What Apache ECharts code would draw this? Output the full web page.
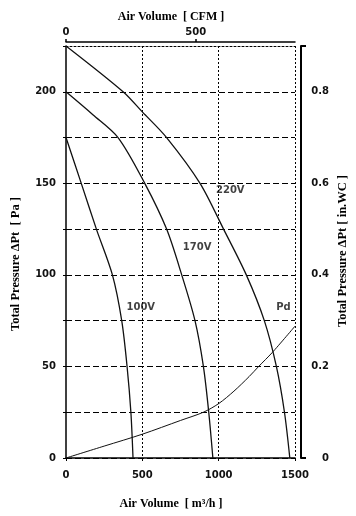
<!DOCTYPE html>
<html>
<head>
<meta charset="utf-8">
<script src="https://cdn.jsdelivr.net/npm/echarts@6/dist/echarts.min.js"></script>
<style>
html,body{margin:0;padding:0;background:#fff;}
#chart{width:356px;height:516px;}
</style>
</head>
<body>
<div id="chart"></div>
<script>
// ---- data (Air volume in m3/h, total pressure in Pa) ----
const volume220 = [0, 374, 500, 659, 878, 1032, 1181, 1299, 1378, 1431, 1466];
const pressure220 = [225, 200, 189, 175, 150, 125, 100, 75, 50, 25, 0];
const volume170 = [0, 176, 341, 516, 659, 758, 845, 900, 935, 962];
const pressure170 = [200, 187.5, 175, 150, 125, 100, 75, 50, 25, 0];
const volume100 = [0, 100, 199, 304, 365, 400, 425, 439];
const pressure100 = [175, 150, 125, 100, 75, 50, 25, 0];
const volumePd = [0, 250, 500, 750, 900, 1000, 1100, 1200, 1262, 1350, 1500];
const pressurePd = [0, 6.5, 13, 20.5, 25, 29.7, 36.5, 44.5, 50, 57.5, 72];
const curveNames = ['220V', '170V', '100V', 'Pd'];
const labelVolume = [1076, 859, 490, 1424];
const labelPressure = [146, 115, 82, 82];
const bottomTicks = [0, 500, 1000, 1500];
const topTicks = [0, 500];
const rightTicks = [0, 0.2, 0.4, 0.6, 0.8];
const CFM_PER_M3H = 1 / 1.699;
const INWC_PER_PA = 1 / 250;

function pairs(xs, ys) { return xs.map((x, i) => [x, ys[i]]); }

const tickFont = { fontFamily: 'DejaVu Sans', fontSize: 10, fontWeight: 'bold', color: '#111' };
const titleFont = 'bold 12px "Liberation Serif"';
const titleFontV = 'bold 12.5px "Liberation Serif"';

const chart = echarts.init(document.getElementById('chart'), null, { renderer: 'canvas' });

const lineSeries = (name, xs, ys, w) => ({
  type: 'line', name: name, xAxisIndex: 0, yAxisIndex: 0,
  data: pairs(xs, ys), showSymbol: false, symbol: 'none', smooth: 0.3,
  lineStyle: { color: '#111', width: w }, z: 5, animation: false
});

chart.setOption({
  animation: false,
  backgroundColor: '#fff',
  grid: { left: 66, right: 61, top: 46, bottom: 58 },
  xAxis: [
    {
      type: 'value', position: 'bottom', min: 0, max: 1500, interval: 500,
      axisLine: { show: true, onZero: false, lineStyle: { color: '#000', width: 1.5 } },
      axisTick: { show: true, length: 3, lineStyle: { color: '#000' } },
      axisLabel: Object.assign({ margin: 12, customValues: bottomTicks, formatter: v => String(v) }, tickFont),
      splitLine: { show: true, showMinLine: false, lineStyle: { color: '#000', width: 1, type: [2, 2] } }
    },
    {
      type: 'value', position: 'top', offset: 4, min: 0, max: 1500 * CFM_PER_M3H, interval: 500,
      axisLine: { show: true, onZero: false, lineStyle: { color: '#000', width: 1.5 } },
      axisTick: { show: true, length: 3, customValues: topTicks, lineStyle: { color: '#000', width: 1.5 } },
      axisLabel: Object.assign({ margin: 5, customValues: topTicks, formatter: v => String(v) }, tickFont),
      splitLine: { show: false }
    },
    {
      type: 'value', position: 'top', offset: 0, min: 0, max: 1500,
      axisLine: { show: true, onZero: false, lineStyle: { color: '#000', width: 1, type: [2, 2] } },
      axisTick: { show: false }, axisLabel: { show: false }, splitLine: { show: false }
    }
  ],
  yAxis: [
    {
      type: 'value', position: 'left', min: 0, max: 225, interval: 25,
      axisLine: { show: true, onZero: false, lineStyle: { color: '#000', width: 1.5 } },
      axisTick: { show: true, length: 3, lineStyle: { color: '#000' } },
      axisLabel: Object.assign({ margin: 10, formatter: v => (v % 50 === 0 ? String(v) : '') }, tickFont),
      splitLine: { show: true, showMaxLine: false, lineStyle: { color: '#000', width: 1, type: [6, 3] } }
    },
    {
      type: 'value', position: 'right', offset: 6, min: 0, max: 225 * INWC_PER_PA, interval: 225 * INWC_PER_PA,
      axisLine: { show: true, onZero: false, lineStyle: { color: '#000', width: 2 } },
      axisTick: { show: true, inside: false, length: 5, lineStyle: { color: '#000', width: 2 } },
      axisLabel: Object.assign({ margin: 28, align: 'right', customValues: rightTicks, formatter: v => (v === 0 ? '0' : v.toFixed(1)) }, tickFont),
      splitLine: { show: false }
    }
  ],
  series: [
    lineSeries(curveNames[0], volume220, pressure220, 1.3),
    lineSeries(curveNames[1], volume170, pressure170, 1.3),
    lineSeries(curveNames[2], volume100, pressure100, 1.3),
    lineSeries(curveNames[3], volumePd, pressurePd, 1),
    {
      type: 'scatter', xAxisIndex: 0, yAxisIndex: 0, symbol: 'circle', symbolSize: 0, silent: true,
      itemStyle: { color: 'rgba(0,0,0,0)' },
      data: curveNames.map((n, i) => ({ value: [labelVolume[i], labelPressure[i]], name: n })),
      label: { show: true, position: 'inside', formatter: p => p.name, fontFamily: 'DejaVu Sans', fontSize: 10, fontWeight: 'bold', color: '#111' },
      z: 6
    }
  ],
  graphic: [
    { type: 'text', x: 171, y: 17, style: { text: 'Air Volume  [ CFM ]', font: titleFont, fill: '#000', align: 'center', verticalAlign: 'middle' } },
    { type: 'text', x: 171, y: 504, style: { text: 'Air Volume  [ m³/h ]', font: titleFont, fill: '#000', align: 'center', verticalAlign: 'middle' } },
    { type: 'text', x: 16, y: 264, rotation: Math.PI / 2, style: { text: 'Total Pressure ΔPt  [ Pa ]', font: titleFontV, fill: '#000', align: 'center', verticalAlign: 'middle' } },
    { type: 'text', x: 343, y: 251, rotation: Math.PI / 2, style: { text: 'Total Pressure ΔPt [ in.WC ]', font: titleFontV, fill: '#000', align: 'center', verticalAlign: 'middle' } }
  ]
});
</script>
</body>
</html>
